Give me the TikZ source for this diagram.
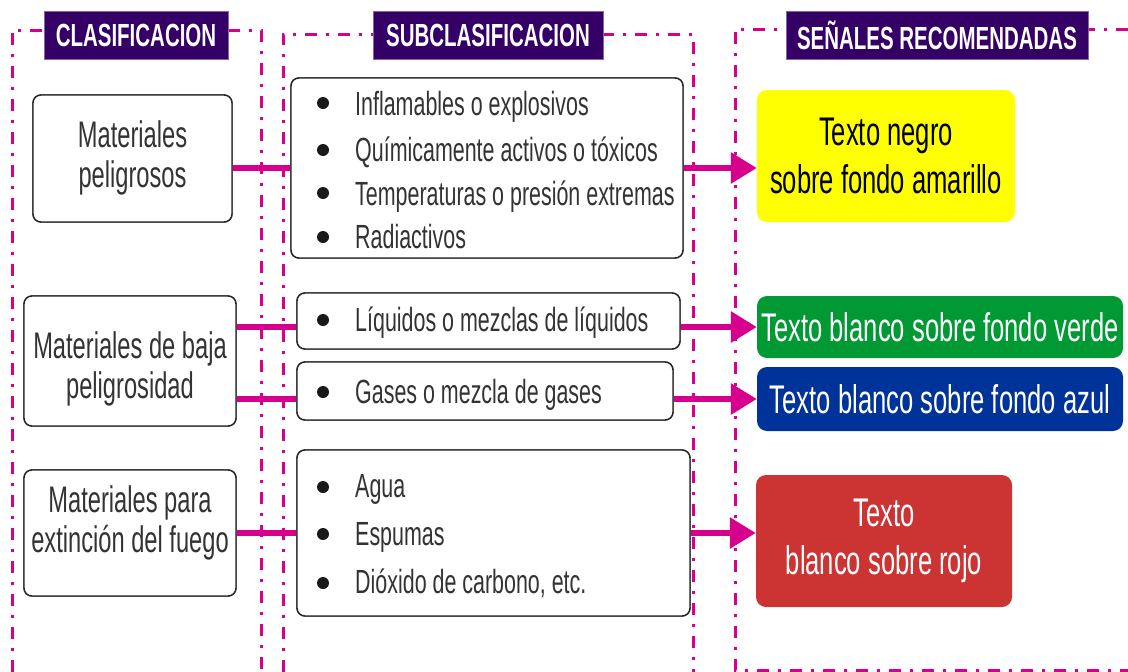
\documentclass[tikz,border=0pt]{standalone}
\usepackage{fontspec}
\setmainfont[FakeStretch=0.64]{Liberation Sans}
\usetikzlibrary{arrows.meta}
\definecolor{mag}{RGB}{214,0,140}
\definecolor{hdr}{RGB}{52,0,102}
\definecolor{ylw}{RGB}{255,255,0}
\definecolor{grn}{RGB}{0,153,51}
\definecolor{blu}{RGB}{0,51,153}
\definecolor{rd}{RGB}{204,51,51}
\tikzset{
  frameline/.style={draw=mag, line width=3pt, dash pattern=on 12pt off 9pt on 3pt off 9pt},
  hdrbox/.style={fill=hdr, draw=hdr!60!white, line width=0.6pt, text=white, inner sep=0pt,
    minimum height=48pt, font=\bfseries\fontsize{32}{34}\selectfont},
  leftbox/.style={draw=black!85, line width=1.4pt, rounded corners=8pt, fill=white, inner sep=0pt,
    align=center, font=\fontsize{37}{39}\selectfont, text=black!80},
  lefttext/.style={align=center, inner sep=0pt, font=\fontsize{37}{40}\selectfont, text=black!80},
  midbox/.style={draw=black!85, line width=1.4pt, rounded corners=8pt, fill=white, inner sep=0pt},
  item/.style={anchor=base west, inner sep=0pt, font=\fontsize{33.5}{36}\selectfont, text=black!80},
  dotb/.style={circle, fill=black!90, minimum size=12pt, inner sep=0pt},
  signbox/.style={rounded corners=10pt, inner sep=0pt, align=center,
    font=\fontsize{40}{48}\selectfont},
  conn/.style={draw=mag, line width=6pt},
  arr/.style={conn, -{Triangle[length=26pt,width=30pt]}}
}
\begin{document}
\begin{tikzpicture}[x=1pt,y=-1pt]
\useasboundingbox (0,0) rectangle (1128,672);
% frames
\draw[frameline] (12,672) -- (12,30) -- (261,30) -- (261,672);
\draw[frameline] (283,672) -- (283,34) -- (693,34) -- (693,672);
\draw[frameline] (1128,29) -- (735,29) -- (735,670) -- (1128,670);
% headers
\node[hdrbox, minimum width=184pt] (h1) at (136,35) {CLASIFICACION};
\node[hdrbox, minimum width=230pt] (h2) at (488,35) {SUBCLASIFICACION};
\node[hdrbox, minimum width=302pt] (h3) at (937,35) {SEÑALES RECOMENDADAS};
% left boxes
\node[leftbox, minimum width=199pt, minimum height=127pt] (lb1) at (132.5,158.5) {};
\node[leftbox, minimum width=212pt, minimum height=130pt] (lb2) at (130,361) {};
\node[leftbox, minimum width=212pt, minimum height=126pt] (lb3) at (130,533) {};
% right boxes
\node[signbox, fill=ylw, text=black, minimum width=258pt, minimum height=132pt] (yb) at (886,156) {Texto negro\\sobre fondo amarillo};
\node[signbox, fill=grn, text=white, minimum width=366pt, minimum height=62pt] (gb) at (940,327) {Texto blanco sobre fondo verde};
\node[signbox, fill=blu, text=white, minimum width=366pt, minimum height=64pt] (bb) at (940,399) {Texto blanco sobre fondo azul};
\node[signbox, fill=rd, text=white, minimum width=256pt, minimum height=132pt] (rb) at (884,541) {Texto\\blanco sobre rojo};
% middle boxes (shapes)
\node[midbox, minimum width=392pt, minimum height=180pt] (mb1) at (487,168) {};
\node[midbox, minimum width=383pt, minimum height=56pt] (mb2) at (488.5,321) {};
\node[midbox, minimum width=376pt, minimum height=58pt] (mb3) at (485,391) {};
\node[midbox, minimum width=393pt, minimum height=166pt] (mb4) at (493.5,533) {};
% connectors
\draw[conn] (lb1.east |- mb1) -- (mb1.west);
\draw[arr] (mb1.east) -- (mb1.east -| yb.west);
\draw[conn] (lb2.east |- gb) -- (mb2.west |- gb);
\draw[arr] (mb2.east |- gb) -- (gb.west);
\draw[conn] (lb2.east |- bb) -- (mb3.west |- bb);
\draw[arr] (mb3.east |- bb) -- (bb.west);
\draw[conn] (lb3.east |- mb4) -- (mb4.west);
\draw[arr] (mb4.east) -- (mb4.east -| rb.west);
% redraw boxes on top of connector ends
\node[leftbox, minimum width=199pt, minimum height=127pt] at (lb1) {};
\node[leftbox, minimum width=212pt, minimum height=130pt] at (lb2) {};
\node[leftbox, minimum width=212pt, minimum height=126pt] at (lb3) {};
\node[midbox, minimum width=392pt, minimum height=180pt] at (mb1) {};
\node[midbox, minimum width=383pt, minimum height=56pt] at (mb2) {};
\node[midbox, minimum width=376pt, minimum height=58pt] at (mb3) {};
\node[midbox, minimum width=393pt, minimum height=166pt] at (mb4) {};
% left texts
\node[lefttext] (lt1) at (132.5,158) {Materiales\\peligrosos};
\node[lefttext] (lt2) at (130,369) {Materiales de baja\\peligrosidad};
\node[lefttext] (lt3) at (130,523) {Materiales para\\extinción del fuego};
% items box 1
\node[dotb] (d11) at (323,103) {}; \node[item] (t11) at (355,115) {Inflamables o explosivos};
\node[dotb] (d12) at (323,150) {}; \node[item] (t12) at (355,161) {Químicamente activos o tóxicos};
\node[dotb] (d13) at (323,193) {}; \node[item] (t13) at (355,205) {Temperaturas o presión extremas};
\node[dotb] (d14) at (323,237) {}; \node[item] (t14) at (355,248) {Radiactivos};
% box 2, 3
\node[dotb] (d21) at (323,320) {}; \node[item] (t21) at (355,331) {Líquidos o mezclas de líquidos};
\node[dotb] (d31) at (323,392) {}; \node[item] (t31) at (355,403) {Gases o mezcla de gases};
% box 4
\node[dotb] (d41) at (323,487) {}; \node[item] (t41) at (355,497) {Agua};
\node[dotb] (d42) at (323,534) {}; \node[item] (t42) at (355,545) {Espumas};
\node[dotb] (d43) at (323,583) {}; \node[item] (t43) at (355,593) {Dióxido de carbono, etc.};
\end{tikzpicture}
\end{document}
